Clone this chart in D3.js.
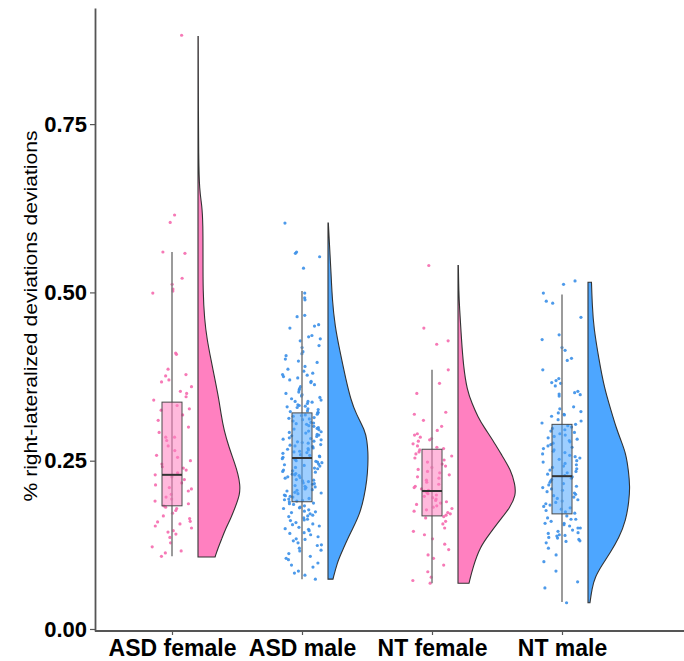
<!DOCTYPE html>
<html>
<head>
<meta charset="utf-8">
<script src="https://cdn.jsdelivr.net/npm/d3@7"></script>
<style>
  body { margin: 0; background: #fff; }
  svg { display: block; font-family: "Liberation Sans", Arial, sans-serif; }
  .axis path, .axis line { stroke: #555; }
  .axis text { fill: #000; font-weight: bold; }
</style>
</head>
<body>
<svg width="684" height="661"></svg>
<script>
// grupos
const categories = ["ASD female", "ASD male", "NT female", "NT male"];
const yTicks = [0, 0.25, 0.5, 0.75];

// estadisticos de las cajas
const q1 = [0.183, 0.189, 0.168, 0.171];
const medians = [0.229, 0.254, 0.205, 0.227];
const q3 = [0.337, 0.321, 0.267, 0.304];
const whiskerLow = [0.108, 0.074, 0.068, 0.040];
const whiskerHigh = [0.560, 0.502, 0.385, 0.497];

// puntos por grupo
const pointsAsdFemale = [0.882, 0.615, 0.604, 0.560, 0.558, 0.521, 0.512, 0.505, 0.502, 0.499,
  0.410, 0.408, 0.386, 0.378, 0.376, 0.370, 0.367, 0.360, 0.353, 0.350, 0.345, 0.340, 0.332,
  0.327, 0.325, 0.318, 0.310, 0.300, 0.292, 0.285, 0.285, 0.280, 0.272, 0.265, 0.258, 0.255,
  0.250, 0.245, 0.241, 0.239, 0.236, 0.232, 0.229, 0.226, 0.222, 0.217, 0.214, 0.210, 0.208,
  0.205, 0.200, 0.196, 0.193, 0.190, 0.186, 0.183, 0.181, 0.179, 0.176, 0.172, 0.168, 0.164,
  0.160, 0.159, 0.156, 0.153, 0.150, 0.146, 0.144, 0.141, 0.136, 0.128, 0.122, 0.116, 0.113, 0.108];

const pointsAsdMale = [0.603, 0.560, 0.558, 0.553, 0.536, 0.499, 0.492, 0.489, 0.466, 0.464,
  0.452, 0.450, 0.447, 0.436, 0.434, 0.431, 0.428, 0.421, 0.418, 0.412, 0.409, 0.406, 0.401,
  0.398, 0.396, 0.390, 0.386, 0.383, 0.380, 0.378, 0.377, 0.375, 0.373, 0.370, 0.368, 0.366,
  0.363, 0.360, 0.357, 0.355, 0.352, 0.350, 0.348, 0.346, 0.344, 0.342, 0.340, 0.338, 0.337,
  0.335, 0.333, 0.332, 0.330, 0.329, 0.327, 0.326, 0.324, 0.323, 0.322, 0.321, 0.319, 0.317,
  0.316, 0.314, 0.312, 0.311, 0.309, 0.307, 0.306, 0.304, 0.302, 0.301, 0.299, 0.297, 0.296,
  0.294, 0.292, 0.291, 0.289, 0.287, 0.286, 0.284, 0.282, 0.281, 0.279, 0.277, 0.276, 0.274,
  0.272, 0.271, 0.269, 0.267, 0.266, 0.264, 0.262, 0.261, 0.259, 0.257, 0.256, 0.255, 0.252,
  0.250, 0.248, 0.247, 0.245, 0.243, 0.242, 0.240, 0.238, 0.236, 0.235, 0.233, 0.231, 0.229,
  0.228, 0.226, 0.224, 0.222, 0.221, 0.219, 0.217, 0.215, 0.213, 0.212, 0.210, 0.208, 0.206,
  0.205, 0.203, 0.201, 0.199, 0.198, 0.196, 0.194, 0.193, 0.191, 0.190, 0.189, 0.187, 0.185,
  0.183, 0.181, 0.179, 0.177, 0.175, 0.173, 0.171, 0.169, 0.167, 0.165, 0.163, 0.161, 0.158,
  0.156, 0.153, 0.151, 0.148, 0.146, 0.143, 0.140, 0.137, 0.134, 0.131, 0.128, 0.124, 0.120,
  0.116, 0.112, 0.108, 0.103, 0.098, 0.092, 0.086, 0.080, 0.074,
  0.338, 0.331, 0.318, 0.313, 0.305, 0.298, 0.293, 0.288, 0.283, 0.278, 0.273, 0.268, 0.263,
  0.258, 0.253, 0.249, 0.244, 0.239, 0.234, 0.230, 0.225, 0.220, 0.216, 0.211, 0.207, 0.202,
  0.197, 0.192, 0.186, 0.180, 0.174, 0.168, 0.162, 0.155, 0.149, 0.142, 0.133, 0.125, 0.117,
  0.105, 0.095, 0.083];

const pointsNtFemale = [0.540, 0.447, 0.428, 0.423, 0.385, 0.365, 0.350, 0.322, 0.319, 0.310,
  0.301, 0.295, 0.290, 0.288, 0.285, 0.283, 0.281, 0.279, 0.275, 0.272, 0.270, 0.268, 0.266,
  0.263, 0.260, 0.257, 0.254, 0.251, 0.248, 0.245, 0.242, 0.240, 0.237, 0.234, 0.232, 0.229,
  0.226, 0.224, 0.221, 0.218, 0.215, 0.212, 0.210, 0.208, 0.206, 0.205, 0.203, 0.201, 0.199,
  0.197, 0.195, 0.193, 0.191, 0.189, 0.187, 0.185, 0.183, 0.181, 0.179, 0.177, 0.175, 0.173,
  0.171, 0.169, 0.167, 0.165, 0.160, 0.156, 0.150, 0.145, 0.140, 0.134, 0.126, 0.118, 0.110,
  0.105, 0.095, 0.085, 0.077, 0.072, 0.068];

const pointsNtMale = [0.517, 0.512, 0.499, 0.487, 0.484, 0.463, 0.437, 0.430, 0.418, 0.414,
  0.402, 0.399, 0.385, 0.372, 0.369, 0.366, 0.365, 0.361, 0.353, 0.351, 0.349, 0.348, 0.346,
  0.330, 0.327, 0.323, 0.321, 0.319, 0.318, 0.316, 0.311, 0.309, 0.306, 0.304, 0.302, 0.300,
  0.298, 0.296, 0.294, 0.292, 0.290, 0.288, 0.286, 0.284, 0.282, 0.280, 0.278, 0.276, 0.274,
  0.272, 0.270, 0.268, 0.266, 0.264, 0.262, 0.260, 0.258, 0.256, 0.254, 0.252, 0.250, 0.248,
  0.246, 0.244, 0.242, 0.240, 0.238, 0.236, 0.234, 0.232, 0.230, 0.228, 0.226, 0.224, 0.222,
  0.220, 0.218, 0.216, 0.214, 0.212, 0.210, 0.208, 0.206, 0.204, 0.202, 0.200, 0.198, 0.196,
  0.194, 0.192, 0.190, 0.188, 0.186, 0.184, 0.182, 0.180, 0.178, 0.176, 0.174, 0.172, 0.168,
  0.165, 0.163, 0.163, 0.160, 0.157, 0.157, 0.155, 0.153, 0.150, 0.150, 0.147, 0.145, 0.143,
  0.142, 0.140, 0.139, 0.138, 0.136, 0.135, 0.133, 0.131, 0.130, 0.128, 0.120, 0.110, 0.100,
  0.086, 0.070, 0.061, 0.039];

// densidades [valor, densidad] para las medias nubes
const densAsdFemale = [[0.107, 1.47], [0.12, 1.72], [0.135, 2.07], [0.15, 2.41], [0.165, 2.84],
  [0.18, 3.19], [0.2, 3.62], [0.215, 3.62], [0.23, 3.45], [0.245, 3.19], [0.27, 2.67],
  [0.295, 2.24], [0.32, 1.98], [0.34, 1.81], [0.37, 1.47], [0.4, 1.12], [0.43, 0.78],
  [0.46, 0.56], [0.5, 0.43], [0.56, 0.43], [0.6, 0.43], [0.63, 0.34], [0.65, 0.13],
  [0.7, 0.05], [0.8, 0.03], [0.88, 0.02]];
const densAsdMale = [[0.074, 0.43], [0.098, 0.78], [0.115, 1.21], [0.132, 1.64], [0.15, 2.16],
  [0.172, 2.76], [0.195, 3.10], [0.221, 3.36], [0.245, 3.45], [0.263, 3.45], [0.28, 3.36],
  [0.295, 3.19], [0.32, 2.41], [0.34, 1.98], [0.37, 1.55], [0.414, 1.01], [0.45, 0.60],
  [0.488, 0.37], [0.53, 0.26], [0.57, 0.13], [0.603, 0.03]];
const densNtFemale = [[0.068, 0.95], [0.092, 1.29], [0.122, 1.90], [0.142, 2.76], [0.162, 3.62],
  [0.18, 4.48], [0.199, 5.0], [0.215, 4.91], [0.236, 4.57], [0.26, 3.71], [0.28, 3.02],
  [0.3, 2.24], [0.315, 1.72], [0.335, 1.21], [0.355, 0.78], [0.39, 0.47], [0.43, 0.30],
  [0.478, 0.13], [0.5, 0.07], [0.54, 0.03]];
const densNtMale = [[0.039, 0.17], [0.06, 0.34], [0.077, 0.60], [0.095, 1.21], [0.113, 1.90],
  [0.135, 2.67], [0.162, 3.28], [0.19, 3.53], [0.211, 3.62], [0.235, 3.49], [0.26, 3.28],
  [0.28, 2.84], [0.3, 2.41], [0.325, 1.98], [0.36, 1.38], [0.4, 0.95], [0.448, 0.49],
  [0.48, 0.37], [0.515, 0.30]];

const pointSets = [pointsAsdFemale, pointsAsdMale, pointsNtFemale, pointsNtMale];
const densSets = [densAsdFemale, densAsdMale, densNtFemale, densNtMale];

const fillColors = ["#ff80c0", "#4da6ff", "#ff80c0", "#4da6ff"];
const dotColors = ["#f56aae", "#3a8fe8", "#f56aae", "#3a8fe8"];

const svg = d3.select("svg");
const panelRight = 684;

const y = d3.scaleLinear().domain([-0.003, 0.9225]).range([631, 8]);
const x = d3.scalePoint().domain(categories).range([172, 562]);
const w = d3.scaleLinear().domain([0, 5]).range([0, 58]);

const cloudOffset = 26;
const boxHalf = 10;
const jitterWidth = 40;

// jitter fijo (sin aleatorio) para que la imagen sea estable
const jitter = (j, i) => {
    const s = Math.sin((j + 1) * 12.9898 + (i + 1) * 78.233) * 43758.5453;
    return (s - Math.floor(s)) - 0.5;
};

const groups = svg.selectAll("g.grupo")
    .data(categories)
    .enter()
    .append("g")
    .attr("class", "grupo");

// media nube (flat violin)
groups.append("path")
    .attr("d", (c, i) => {
        const flat = x(c) + cloudOffset;
        return d3.area()
            .curve(d3.curveBasis)
            .y(d => y(d[0]))
            .x0(flat)
            .x1(d => flat + w(d[1]))(densSets[i]);
    })
    .attr("fill", (c, i) => fillColors[i])
    .attr("stroke", "#333")
    .attr("stroke-width", 1.1);

// puntos con jitter
groups.each(function(c, i) {
    d3.select(this).selectAll("circle")
        .data(pointSets[i])
        .enter()
        .append("circle")
        .attr("cx", (d, j) => x(c) + jitter(j, i) * jitterWidth)
        .attr("cy", d => y(d))
        .attr("r", 1.6)
        .attr("fill", dotColors[i])
        .attr("opacity", 0.9);
});

// bigotes
groups.append("line")
    .attr("x1", c => x(c))
    .attr("x2", c => x(c))
    .attr("y1", (c, i) => y(whiskerLow[i]))
    .attr("y2", (c, i) => y(whiskerHigh[i]))
    .attr("stroke", "#7a7a7a")
    .attr("stroke-width", 1.5);

// cajas
groups.append("rect")
    .attr("x", c => x(c) - boxHalf)
    .attr("width", boxHalf * 2)
    .attr("y", (c, i) => y(q3[i]))
    .attr("height", (c, i) => y(q1[i]) - y(q3[i]))
    .attr("fill", (c, i) => fillColors[i])
    .attr("fill-opacity", 0.55)
    .attr("stroke", "#4a4a4a")
    .attr("stroke-width", 1);

groups.append("line")
    .attr("x1", c => x(c) - boxHalf)
    .attr("x2", c => x(c) + boxHalf)
    .attr("y1", (c, i) => y(medians[i]))
    .attr("y2", (c, i) => y(medians[i]))
    .attr("stroke", "#333")
    .attr("stroke-width", 2);

// ejes
const yAxis = svg.append("g")
    .attr("class", "axis")
    .attr("transform", "translate(95,0)")
    .call(d3.axisLeft(y).tickValues(yTicks).tickFormat(d3.format(".2f")).tickSize(5).tickSizeOuter(0));
yAxis.select(".domain").attr("stroke-width", 1.8);
yAxis.selectAll(".tick line").attr("stroke-width", 1.2);
yAxis.selectAll("text").attr("font-size", 22).attr("x", -8);

const xAxis = svg.append("g")
    .attr("class", "axis")
    .attr("transform", `translate(0,${y.range()[0]})`)
    .call(d3.axisBottom(x).tickSize(4).tickSizeOuter(0));
xAxis.select(".domain").remove();
xAxis.append("line")
    .attr("x1", 95)
    .attr("x2", panelRight)
    .attr("stroke", "#555")
    .attr("stroke-width", 1.8);
xAxis.selectAll(".tick line").attr("stroke-width", 1.2);
xAxis.selectAll("text").attr("font-size", 23).attr("y", 9).attr("dy", "0.71em");

svg.append("text")
    .attr("transform", "translate(37,316) rotate(-90)")
    .attr("text-anchor", "middle")
    .attr("font-size", 18)
    .attr("textLength", 371)
    .attr("lengthAdjust", "spacingAndGlyphs")
    .attr("fill", "#000")
    .text("% right-lateralized deviations deviations");
</script>
</body>
</html>
